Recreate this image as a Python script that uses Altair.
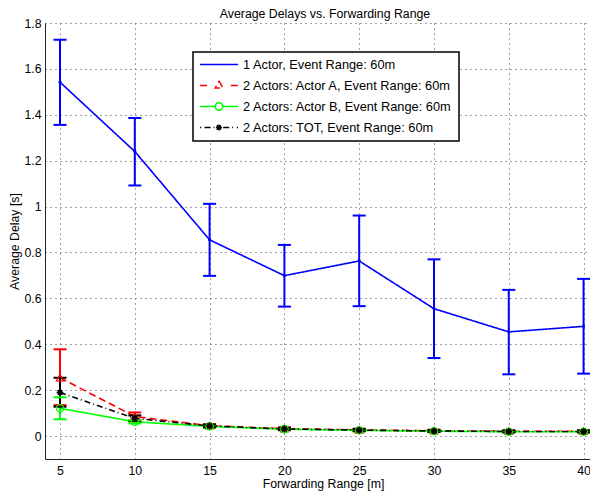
import altair as alt
import pandas as pd

title_text = ["Average Delays vs. Forwarding Range"]
ranges = [5, 10, 15, 20, 25, 30, 35, 40]
series_names = [
    "1 Actor, Event Range: 60m",
    "2 Actors: Actor A, Event Range: 60m",
    "2 Actors: Actor B, Event Range: 60m",
    "2 Actors: TOT, Event Range: 60m",
]
colors = ["#0000ff", "#ff0000", "#00ff00", "#000000"]

blue_mean = [1.542, 1.240, 0.855, 0.699, 0.763, 0.555, 0.454, 0.478]
blue_lo = [1.356, 1.092, 0.698, 0.564, 0.566, 0.340, 0.269, 0.272]
blue_hi = [1.727, 1.386, 1.012, 0.833, 0.961, 0.770, 0.637, 0.685]

red_mean = [0.254, 0.085, 0.045, 0.032, 0.027, 0.023, 0.021, 0.021]
red_lo = [0.135, 0.068, 0.038, 0.026, 0.022, 0.018, 0.016, 0.016]
red_hi = [0.378, 0.103, 0.052, 0.038, 0.032, 0.028, 0.026, 0.026]

green_mean = [0.121, 0.062, 0.042, 0.030, 0.025, 0.021, 0.019, 0.019]
green_lo = [0.073, 0.055, 0.036, 0.025, 0.020, 0.017, 0.015, 0.015]
green_hi = [0.169, 0.069, 0.048, 0.035, 0.030, 0.025, 0.023, 0.023]

black_mean = [0.190, 0.077, 0.044, 0.031, 0.026, 0.022, 0.020, 0.020]
black_lo = [0.128, 0.065, 0.038, 0.026, 0.021, 0.018, 0.016, 0.016]
black_hi = [0.254, 0.090, 0.050, 0.036, 0.031, 0.026, 0.024, 0.024]

rows = []
for name, m, lo, hi in zip(
    series_names,
    [blue_mean, red_mean, green_mean, black_mean],
    [blue_lo, red_lo, green_lo, black_lo],
    [blue_hi, red_hi, green_hi, black_hi],
):
    for r, a, b, c in zip(ranges, m, lo, hi):
        rows.append({"range": r, "series": name, "delay": a, "lo": b, "hi": c})
df = pd.DataFrame(rows)

# legend symbols: line sample with marker drawn as a custom path
legend_paths = [
    "M-1,0L1,0M-0.03,0L0.03,0",
    "M-1,0L-0.62,0M0.62,0L1,0M0,-0.24L0.2,0.13L-0.2,0.13L0,-0.24",
    "M-1,0L-0.2,0M0.2,0L1,0M0.2,0A0.2,0.2 0 1,1 -0.2,0A0.2,0.2 0 1,1 0.2,0",
    "M-1,0L-0.94,0M-0.76,0L-0.22,0M0.22,0L0.76,0M0.94,0L1,0"
    "M-0.16,0L0.16,0M0,-0.16L0,0.16M-0.12,-0.12L0.12,0.12M-0.12,0.12L0.12,-0.12",
]
asterisk = "M-1,0L1,0M0,-1L0,1M-0.7,-0.7L0.7,0.7M-0.7,0.7L0.7,-0.7"

FONT = "Liberation Sans"
FS = 12.3
LEG_FS = 12.8

x_scale = alt.Scale(domain=[3.997, 40.43], nice=False, zero=False)
y_scale = alt.Scale(domain=[-0.1, 1.8], nice=False, zero=False)
color_scale = alt.Scale(domain=series_names, range=colors)

x_enc = alt.X(
    "range:Q",
    scale=x_scale,
    title="Forwarding Range [m]",
    axis=alt.Axis(values=ranges, format="d", titleX=278),
)
y_enc = alt.Y(
    "delay:Q",
    scale=y_scale,
    title="Average Delay [s]",
    axis=alt.Axis(values=[0, 0.2, 0.4, 0.6, 0.8, 1, 1.2, 1.4, 1.6, 1.8], format="~g"),
)

base = alt.Chart(df)
col = alt.Color("series:N", scale=color_scale, legend=None)

legend_def = alt.Legend(
    orient="none",
    legendX=148,
    legendY=29,
    symbolOpacity=1,
    symbolSize=1444,
    symbolStrokeWidth=1.5,
    symbolFillColor="transparent",
    clipHeight=13,
    rowPadding=7,
    labelOffset=4,
    padding=6,
    strokeColor="black",
    fillColor="white",
    labelFont=FONT,
    labelFontSize=LEG_FS,
    labelColor="black",
    labelLimit=400,
)

legend_layer = base.mark_point(filled=False, opacity=0, strokeWidth=1.5).encode(
    x=x_enc,
    y=y_enc,
    color=alt.Color("series:N", scale=color_scale, title=None, legend=legend_def),
    shape=alt.Shape(
        "series:N",
        scale=alt.Scale(domain=series_names, range=legend_paths),
        title=None,
        legend=legend_def,
    ),
)

lines = base.mark_line(strokeWidth=1.6).encode(
    x="range:Q",
    y="delay:Q",
    color=col,
    strokeDash=alt.StrokeDash(
        "series:N",
        scale=alt.Scale(domain=series_names, range=[[1, 0], [7, 4], [1, 0], [6, 3, 1, 3]]),
        legend=None,
    ),
)

err = base.mark_rule(strokeWidth=2).encode(
    x="range:Q",
    y="lo:Q",
    y2="hi:Q",
    color=col,
)
cap_lo = base.mark_rule(strokeWidth=2, xOffset=-6.5, x2Offset=6.5).encode(
    x="range:Q",
    x2="range:Q",
    y="lo:Q",
    color=col,
)
cap_hi = base.mark_rule(strokeWidth=2, xOffset=-6.5, x2Offset=6.5).encode(
    x="range:Q",
    x2="range:Q",
    y="hi:Q",
    color=col,
)

def markers(name, shape, size, sw):
    return base.transform_filter(alt.datum.series == name).mark_point(
        shape=shape, size=size, filled=False, strokeWidth=sw, opacity=1
    ).encode(
        x="range:Q",
        y="delay:Q",
        color=col,
    )

m_blue = markers(series_names[0], "circle", 3, 1.5)
m_red = markers(series_names[1], "triangle-up", 55, 1.2)
m_green = markers(series_names[2], "circle", 55, 1.2)
m_black = markers(series_names[3], asterisk, 45, 1.6)

title_layer = alt.Chart(pd.DataFrame({"t": title_text})).mark_text(
    font=FONT, fontSize=FS, color="black", align="center", baseline="alphabetic"
).encode(
    text="t:N",
    x=alt.value(280),
    y=alt.value(-5),
)

chart = (
    alt.layer(
        legend_layer, lines, err, cap_lo, cap_hi, m_blue, m_red, m_green, m_black, title_layer
    )
    .properties(
        width=545,
        height=436,
        autosize=alt.AutoSizeParams(type="none"),
        padding={"left": 37, "top": 15, "right": 0, "bottom": 32},
    )
    .configure_view(stroke=None)
    .configure_axis(
        labelFont=FONT,
        labelFontSize=FS,
        labelColor="black",
        titleFont=FONT,
        titleFontSize=FS,
        titleFontWeight="normal",
        titleColor="black",
        domainColor="#222222",
        domainWidth=1,
        ticks=False,
        tickSize=0,
        grid=True,
        gridColor="#444444",
        gridDash=[1, 4],
        gridWidth=1,
        gridOpacity=1,
    )
    .configure_axisX(labelPadding=5, titlePadding=1)
    .configure_axisY(labelPadding=4, titlePadding=2)
    .configure_legend(strokeWidth=1.5)
)

chart.save("out.html", embed_options={"renderer": "svg", "actions": False})
